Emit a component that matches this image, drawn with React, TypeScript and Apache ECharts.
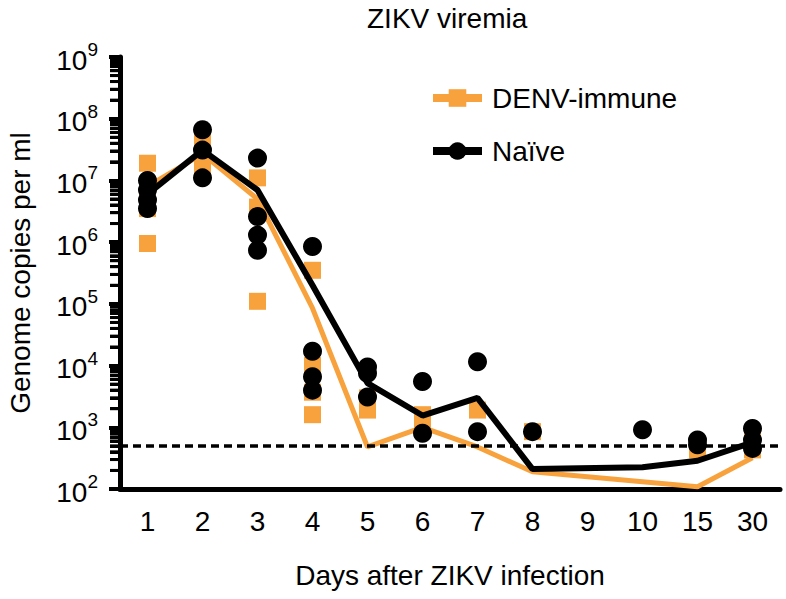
import React, { useEffect, useRef } from 'react';
import * as echarts from 'echarts';

const days = ['1', '2', '3', '4', '5', '6', '7', '8', '9', '10', '15', '30'];

// individual animals, DENV-immune (orange squares)
const denvPoints: number[][] = [
  [1.9e7, 6e6, 3.5e6, 9.5e5],
  [4e7, 2.2e7, 1.4e7],
  [1.1e7, 3.7e6, 1.1e5],
  [3.5e5, 1.0e4, 3.7e3, 1.6e3],
  [3e3, 1.9e3],
  [1.6e3, 1.0e3],
  [1.9e3],
  [850],
  [],
  [],
  [430],
  [600, 430],
];

// individual animals, naive (black circles)
const naivePoints: number[][] = [
  [1.0e7, 7e6, 4.8e6, 3.5e6],
  [6.6e7, 3.1e7, 1.1e7],
  [2.3e7, 2.6e6, 1.3e6, 7.4e5],
  [8.5e5, 1.7e4, 6.6e3, 4e3],
  [9.5e3, 7.5e3, 3.1e3],
  [5.5e3, 800],
  [1.15e4, 850],
  [850],
  [],
  [910],
  [620, 520],
  [960, 620, 455],
];

const denvMean: (number | null)[] = [8e6, 2.7e7, 5e6, 8.5e4, 480, 1.0e3, 480, 190, null, null, 109, 320];
const naiveMean: (number | null)[] = [6e6, 3.1e7, 7e6, 2e5, 5.2e3, 1.55e3, 3e3, 210, null, 225, 287, 570];

const detectionLimit = 500;
const yMin = 1e2;
const yMax = 1e9;

const ORANGE = '#F8A23E';
const FONT = 'Liberation Sans, Arial, Helvetica, sans-serif';

function toPairs(groups: number[][]) {
  const out: number[][] = [];
  groups.forEach((vals, i) => vals.forEach((v) => out.push([i, v])));
  return out;
}

// minor log-axis tick positions (2..9 x 10^n)
const minorTickValues: number[] = [];
for (let e = 2; e < 9; e++) {
  for (let k = 2; k <= 9; k++) minorTickValues.push(k * Math.pow(10, e));
}

const GRID_LEFT = 120;

export default function App() {
  const ref = useRef<HTMLDivElement>(null);
  useEffect(() => {
    if (!ref.current) return;
    const chart = echarts.init(ref.current, undefined, { renderer: 'svg' });
    chart.setOption({
      animation: false,
      textStyle: { fontFamily: FONT },
      title: {
        text: 'ZIKV viremia',
        left: 367,
        top: 4,
        padding: 0,
        textStyle: { fontSize: 28, fontWeight: 'normal', color: '#000', fontFamily: FONT },
      },
      legend: {
        data: ['DENV-immune', 'Naïve'],
        orient: 'vertical',
        left: 429,
        top: 84,
        padding: 0,
        itemWidth: 49,
        itemHeight: 22,
        itemGap: 25,
        lineStyle: { width: 8 },
        textStyle: { fontSize: 28, color: '#000', fontFamily: FONT, padding: [0, 0, 0, 5] },
        selectedMode: false,
      },
      grid: { left: GRID_LEFT, right: 6, top: 57, bottom: 110, outerBoundsMode: 'none' },
      xAxis: {
        type: 'category',
        data: days,
        boundaryGap: true,
        name: 'Days after ZIKV infection',
        nameLocation: 'middle',
        nameGap: 72,
        nameTextStyle: { fontSize: 28, color: '#000', fontFamily: FONT },
        axisLine: { lineStyle: { color: '#000', width: 5 } },
        axisTick: { alignWithLabel: true, length: 11, lineStyle: { color: '#000', width: 4 } },
        axisLabel: { fontSize: 28, color: '#000', margin: 18, fontFamily: FONT },
        splitLine: { show: false },
      },
      yAxis: {
        type: 'log',
        logBase: 10,
        min: yMin,
        max: yMax,
        position: 'left',
        name: 'Genome copies per ml',
        nameLocation: 'middle',
        nameRotate: 90,
        nameGap: 86,
        nameTextStyle: { fontSize: 28, color: '#000', fontFamily: FONT },
        axisLine: { show: true, lineStyle: { color: '#000', width: 5 } },
        axisTick: { show: true, length: 11, lineStyle: { color: '#000', width: 4 } },
        axisLabel: {
          margin: 22,
          formatter: (v: number) => `{b|10}{s|${Math.round(Math.log10(v))}}`,
          rich: {
            b: { fontSize: 28, color: '#000', fontFamily: FONT, verticalAlign: 'bottom', padding: [6, 0, 0, 0] },
            s: { fontSize: 19, color: '#000', fontFamily: FONT, verticalAlign: 'top' },
          },
        },
        splitLine: { show: false },
      },
      series: [
        {
          name: 'DENV-immune points',
          type: 'scatter',
          symbol: 'rect',
          symbolSize: 17,
          itemStyle: { color: ORANGE, opacity: 1 },
          data: toPairs(denvPoints),
          z: 2,
          silent: true,
        },
        {
          name: 'DENV-immune',
          type: 'line',
          data: denvMean,
          connectNulls: true,
          symbol: 'rect',
          showSymbol: false,
          itemStyle: { color: ORANGE },
          lineStyle: { color: ORANGE, width: 5 },
          z: 3,
          silent: true,
          markLine: {
            silent: true,
            symbol: 'none',
            label: { show: false },
            lineStyle: { color: '#000', width: 3.5, type: [8, 5] },
            data: [{ yAxis: detectionLimit }],
          },
        },
        {
          name: 'Naïve points',
          type: 'scatter',
          symbol: 'circle',
          symbolSize: 19,
          itemStyle: { color: '#000', opacity: 1 },
          data: toPairs(naivePoints),
          z: 4,
          silent: true,
        },
        {
          name: 'Naïve',
          type: 'line',
          data: naiveMean,
          connectNulls: true,
          symbol: 'circle',
          showSymbol: false,
          itemStyle: { color: '#000' },
          lineStyle: { color: '#000', width: 6 },
          z: 5,
          silent: true,
          markLine: {
            silent: true,
            symbol: 'none',
            label: { show: false },
            lineStyle: { color: '#000', width: 3, type: 'solid' },
            data: minorTickValues.map((v) => [
              { x: GRID_LEFT - 10, yAxis: v },
              { x: GRID_LEFT - 2, yAxis: v },
            ]),
          },
        },
        {
          name: 'minor ticks',
          type: 'custom',
          silent: true,
          clip: false,
          z: 10,
          data: minorTickValues.map((v) => [0, v]),
          renderItem: (params: any, api: any) => {
            const p = api.coord([api.value(0), api.value(1)]);
            return {
              type: 'rect',
              shape: { x: GRID_LEFT - 10, y: p[1] - 1.5, width: 8, height: 3 },
              style: { fill: '#000' },
            };
          },
        },
      ],
    });
    return () => chart.dispose();
  }, []);
  return <div ref={ref} style={{ width: 786, height: 599, position: 'absolute', left: 0, top: 0, background: '#fff' }} />;
}
